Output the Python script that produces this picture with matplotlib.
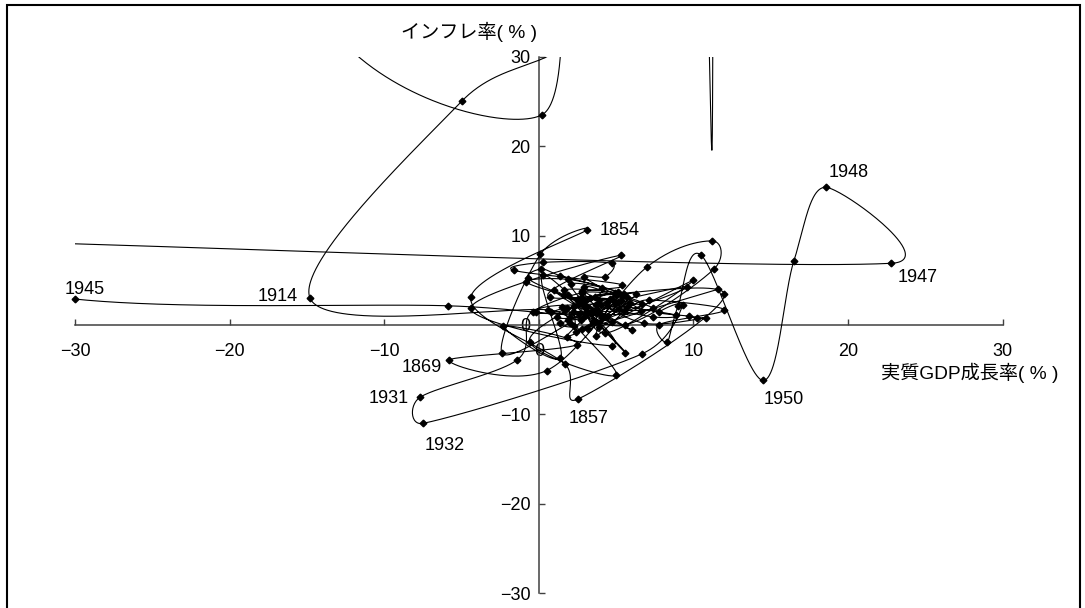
import numpy as np
import matplotlib.pyplot as plt
from matplotlib.patches import Rectangle

plt.rcParams['font.family'] = ['Liberation Sans', 'Noto Sans CJK JP']

# real GDP growth (%) and inflation (%) per year, 1851-2000 (None = off-scale, not plotted)
years = list(range(1851, 2001))
gdp = [
    2.0, -2.4, 0.1, 3.1, -4.4, 1.7, 2.5, 12.0, 0.7,            # 1851-1859
    5.3, -4.4, 4.7, 2.6, 5.6, 0.3, 1.4, -2.3, 2.45, -5.8,      # 1860s
    0.5, 7.0, 11.2, 11.35, 5.6, 1.5, 5.0, -0.6, 3.3, 1.2,      # 1870s
    3.0, 4.0, 2.8, 3.8, 1.9, 3.5, 4.4, 2.4, 5.9, 3.7,          # 1880s
    4.6, 1.8, 5.2, 2.2, 4.9, 3.2, 6.3, 3.1, 4.7, 2.5,          # 1890s
    6.0, 1.0, 3.4, 6.6, 2.9, 4.3, 10.0, 3.9, 5.7, 2.1,         # 1900s
    4.0, 5.1, 2.7, 0.6, -14.8, -5.0, 2.5, 0.8, 0.2, -15.5,     # 1910s
    6.5, 11.25, 8.0, None, None, 11.6, 2.8, 9.6, 4.4, -0.4,    # 1920s
    -1.4, -7.7, -7.5, 6.7, 9.3, 7.8, 9.7, 10.2, 10.8, 6.8,     # 1930s
    3.6, 5.5, 1.6, 2.6, -5.9, -30.0, -48.0, 22.8, 18.55, 16.5, # 1940s
    14.5, 10.5, 9.0, 8.3, 7.8, 12.0, 7.1, 5.7, 3.7, 7.4,       # 1950s
    8.9, 4.9, 4.7, 2.8, 6.7, 5.4, 2.8, -0.2, 5.5, 7.4,         # 1960s
    5.0, 2.9, 4.3, 4.7, 0.3, -1.6, 5.4, 2.8, 3.0, 4.1,         # 1970s
    1.4, 0.15, -0.7, 1.6, 2.8, 2.3, 2.3, 1.4, 3.7, 3.9,        # 1980s
    5.3, 5.1, 1.9, -0.8, 2.5, 1.7, 0.8, 1.8, 2.0, 1.9,         # 1990s
    3.1,                                                        # 2000
]
infl = [
    0.2, -3.1, 7.9, 10.6, 3.1, -4.4, -8.3, 3.5, 3.1,
    7.8, 1.9, -2.3, 2.4, -3.1, 5.6, -3.7, -0.1, -2.2, -3.9,
    -5.1, 6.5, 9.4, 6.3, 0.0, 2.0, -5.6, -1.9, 3.0, 0.9,
    1.0, 2.2, 3.8, 1.6, 3.3, 0.4, 0.9, -0.8, 2.5, -1.2,
    2.9, -1.3, 1.8, 1.5, 3.6, -0.5, 3.5, 2.0, 0.3, 2.9,
    -0.6, 3.9, 1.4, 1.6, 4.3, -0.9, 5.0, -0.2, 3.1, 4.6,
    1.1, 2.6, 0.6, 1.7, 3.0, 25.0, 34.0, 60.0, 23.5, 45.0,
    146.0, 31.4, 1000.0, None, None, 4.0, -0.4, 4.2, 2.5, 1.5,
    -3.9, -8.1, -11.0, -3.2, 2.2, 1.4, 1.0, 0.8, 0.8, 0.2,
    3.1, 3.5, 3.9, 1.2, 2.15, 2.9, 9.6, 6.9, 15.4, 7.2,
    -6.2, 7.8, 2.1, -1.9, 0.05, 1.7, 2.8, 2.0, 2.2, 0.9,
    1.1, 2.3, 2.9, 3.0, 2.3, 3.2, 3.6, 1.4, 1.6, 1.85,
    3.4, 5.4, 5.4, 6.9, 7.0, 6.1, 4.5, 3.7, 2.7, 4.1,
    5.5, 6.25, 5.2, 3.3, 2.4, 2.1, -0.1, 0.2, 1.3, 2.8,
    2.7, 3.7, 5.1, 4.8, 2.7, 1.7, 1.4, 1.9, 0.9, 0.6,
    1.4,
]

label_years = [1854, 1857, 1869, 1914, 1931, 1932, 1945, 1947, 1948, 1950]
# label placement relative to the marker: (dx px, dy px, ha)
label_pos = {
    1854: (12.7, -4.6, 'left'), 1857: (-9, -23.6, 'left'),
    1869: (-7.6, -12.0, 'right'), 1931: (-10.7, -5.6, 'right'),
    1932: (1.3, -26.3, 'left'), 1914: (-12.3, -3.0, 'right'),
    1945: (-10, 5.4, 'left'), 1947: (6.7, -18.6, 'left'),
    1948: (2.6, 10.7, 'left'), 1950: (0.6, -23.9, 'left'),
}

W, H = 1085, 608
fig = plt.figure(figsize=(W / 100, H / 100), dpi=100)
ax_rect = [75 / W, 1 - 593.3 / H, 927.7 / W, 536.6 / H]
ax = fig.add_axes(ax_rect)
ax.set_xlim(-30, 30)
ax.set_ylim(-30, 30)

# Excel-like smoothed line: bezier through the points, computed in pixel space
sx = ax_rect[2] * W / 60
sy = ax_rect[3] * H / 60


def smooth(xs, ys):
    pts = np.column_stack([np.asarray(xs) * sx, np.asarray(ys) * sy])
    out = [pts[:1]]
    for i in range(len(pts) - 1):
        p0 = pts[max(i - 1, 0)]
        p1, p2 = pts[i], pts[i + 1]
        p3 = pts[min(i + 2, len(pts) - 1)]
        d12 = np.hypot(*(p2 - p1))
        d02 = np.hypot(*(p2 - p0))
        d13 = np.hypot(*(p3 - p1))
        f1 = 1 / 6 if d02 / 6 < d12 / 2 else d12 / (2 * d02)
        f2 = 1 / 6 if d13 / 6 < d12 / 2 else d12 / (2 * d13)
        c1 = p1 + f1 * (p2 - p0)
        c2 = p2 - f2 * (p3 - p1)
        n = int(min(max(30, d12 / 1.5), 4000))
        t = np.linspace(0, 1, n)[1:, None]
        seg = (1 - t) ** 3 * p1 + 3 * (1 - t) ** 2 * t * c1 + 3 * (1 - t) * t ** 2 * c2 + t ** 3 * p2
        out.append(seg)
    c = np.vstack(out)
    return c[:, 0] / sx, c[:, 1] / sy


x = np.array([np.nan if v is None else v for v in gdp])
y = np.array([np.nan if v is None else v for v in infl])
ok = ~np.isnan(x)
# split into runs at missing years
runs, cur = [], []
for i in range(len(x)):
    if ok[i]:
        cur.append(i)
    elif cur:
        runs.append(cur)
        cur = []
if cur:
    runs.append(cur)

for r in runs:
    cx, cy = smooth(x[r], y[r])
    ax.plot(cx, cy, color='black', lw=0.8, zorder=3)

inside = ok & (np.abs(np.nan_to_num(x)) <= 30) & (np.abs(np.nan_to_num(y)) <= 30)
ax.plot(x[inside], y[inside], 'D', ms=3.4, color='black', clip_on=False, zorder=4)

for yr in label_years:
    i = years.index(yr)
    dx, dy, ha = label_pos[yr]
    ax.annotate(str(yr), (x[i], y[i]), xytext=(dx, dy), textcoords='offset pixels',
                ha=ha, va='baseline', fontsize=13, annotation_clip=False)

for s in ['top', 'right']:
    ax.spines[s].set_visible(False)
for s in ['left', 'bottom']:
    ax.spines[s].set_position(('data', 0))
    ax.spines[s].set_color('#404040')
    ax.spines[s].set_linewidth(1.1)

ax.set_xticks(range(-30, 31, 10))
ax.set_yticks(range(-30, 31, 10))
ax.tick_params(direction='in', length=4, width=1, color='#404040', labelsize=13)
ax.tick_params(axis='x', pad=13)
ax.tick_params(axis='y', pad=6)
ax.patch.set_visible(False)

fig.text(536.7 / W, 1 - 31.7 / H, 'インフレ率( % )', ha='right', va='center', fontsize=13.8)
fig.text(881 / W, 1 - 373.3 / H, '実質GDP成長率( % )', ha='left', va='center', fontsize=13.8)

fig.patches.append(Rectangle((7 / W, -0.05), (1080 - 7) / W, 1.05 - 5 / H, fill=False,
                             ec='black', lw=1.5, transform=fig.transFigure))

fig.savefig('out.png', dpi=100)
